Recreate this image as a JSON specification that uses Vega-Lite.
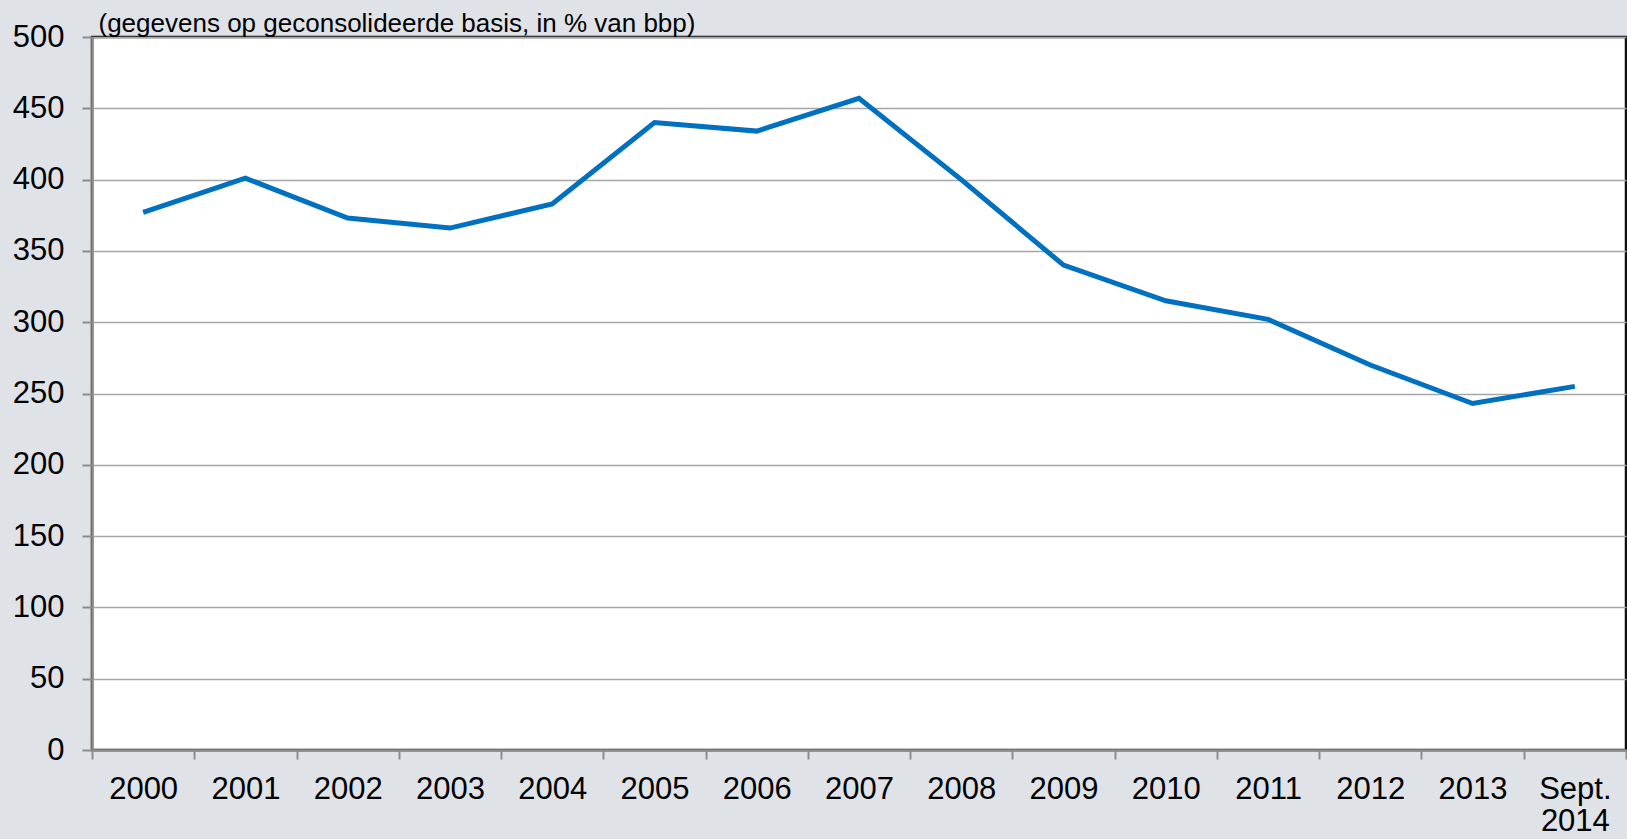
{
  "$schema": "https://vega.github.io/schema/vega-lite/v6.json",
  "width": 1534,
  "height": 713,
  "autosize": {"type": "none"},
  "padding": {"left": 92, "top": 37, "right": 1, "bottom": 89},
  "background": "#dfe2e7",
  "config": {
    "font": "Liberation Sans",
    "view": {"fill": "white", "stroke": "#111111", "strokeWidth": 2.5}
  },
  "data": {
    "values": [
      {"jaar": "2000", "waarde": 377},
      {"jaar": "2001", "waarde": 401},
      {"jaar": "2002", "waarde": 373},
      {"jaar": "2003", "waarde": 366},
      {"jaar": "2004", "waarde": 383},
      {"jaar": "2005", "waarde": 440},
      {"jaar": "2006", "waarde": 434},
      {"jaar": "2007", "waarde": 457},
      {"jaar": "2008", "waarde": 400},
      {"jaar": "2009", "waarde": 340},
      {"jaar": "2010", "waarde": 315},
      {"jaar": "2011", "waarde": 302},
      {"jaar": "2012", "waarde": 270},
      {"jaar": "2013", "waarde": 243},
      {"jaar": "Sept. 2014", "waarde": 255}
    ]
  },
  "mark": {"type": "line", "color": "#0070c0", "strokeWidth": 5},
  "encoding": {
    "x": {
      "field": "jaar",
      "type": "nominal",
      "sort": null,
      "bandPosition": 0.5,
      "scale": {"type": "band", "paddingInner": 0, "paddingOuter": 0},
      "axis": {
        "title": null,
        "labelAngle": 0,
        "labelFontSize": 31,
        "labelColor": "#000000",
        "labelPadding": 15,
        "labelLineHeight": 32,
        "labelExpr": "datum.value == 'Sept. 2014' ? ['Sept.', '2014'] : datum.value",
        "tickBand": "extent",
        "tickSize": 9,
        "tickColor": "#8c8c8c",
        "tickWidth": 2,
        "domainColor": "#8c8c8c",
        "domainWidth": 2.5,
        "grid": false
      }
    },
    "y": {
      "field": "waarde",
      "type": "quantitative",
      "scale": {"domain": [0, 500], "nice": false},
      "axis": {
        "values": [0, 50, 100, 150, 200, 250, 300, 350, 400, 450, 500],
        "title": "(gegevens op geconsolideerde basis, in % van bbp)",
        "titleAngle": 0,
        "titleX": 6,
        "titleY": -6,
        "titleAlign": "left",
        "titleBaseline": "alphabetic",
        "titleFontSize": 26,
        "titleFontWeight": "normal",
        "titleColor": "#000000",
        "labelFontSize": 31,
        "labelColor": "#000000",
        "labelPadding": 18,
        "tickSize": 10,
        "tickColor": "#8c8c8c",
        "tickWidth": 2,
        "domainColor": "#8c8c8c",
        "domainWidth": 2.5,
        "grid": true,
        "gridColor": "#a6a6a6",
        "gridWidth": 1.5
      }
    }
  }
}
